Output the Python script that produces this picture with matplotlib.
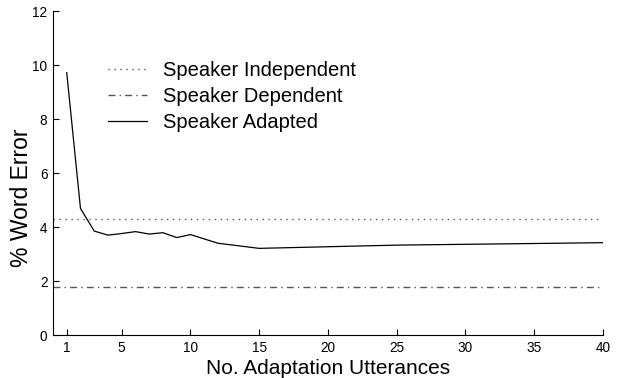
import matplotlib
matplotlib.use("Agg")
import matplotlib.pyplot as plt

# Data
utterances = [1, 2, 3, 4, 5, 6, 7, 8, 9, 10, 12, 15, 20, 25, 30, 40]
adapted_err = [9.73, 4.70, 3.86, 3.71, 3.77, 3.84, 3.75, 3.80, 3.62, 3.73, 3.41, 3.22, 3.28, 3.34, 3.37, 3.43]
independent_err = 4.30
dependent_err = 1.80
x_ticks = [1, 5, 10, 15, 20, 25, 30, 35, 40]
y_ticks = [0, 2, 4, 6, 8, 10, 12]

plt.rcParams['font.family'] = ['Liberation Sans', 'DejaVu Sans']

fig = plt.figure(figsize=(6.27, 3.78), dpi=100)
ax = fig.add_axes([0.0845, 0.113, 0.877, 0.857])

ax.axhline(independent_err, color='#555555', lw=1.0, linestyle=(0, (1, 3.3)),
           label='Speaker Independent')
ax.axhline(dependent_err, color='#555555', lw=1.0, linestyle=(0, (5, 3, 1, 3)),
           label='Speaker Dependent')
ax.plot(utterances, adapted_err, color='black', lw=0.9, label='Speaker Adapted')

ax.set_xlim(0, 40)
ax.set_ylim(0, 12)
ax.set_xticks(x_ticks)
ax.set_yticks(y_ticks)
ax.tick_params(direction='in', length=4, width=0.8, labelsize=9.8, pad=4)
for s in ['top', 'right']:
    ax.spines[s].set_visible(False)
for s in ['left', 'bottom']:
    ax.spines[s].set_linewidth(0.8)

ax.set_xlabel('No. Adaptation Utterances', fontsize=15, labelpad=3)
ax.set_ylabel('% Word Error', fontsize=16.5)
ax.yaxis.set_label_coords(-0.036, 0.424)

ax.legend(loc='upper left', bbox_to_anchor=(108 / 627, 1 - 61 / 378),
          bbox_transform=fig.transFigure, frameon=False, fontsize=14.5,
          handlelength=1.95, handletextpad=0.8, labelspacing=0.35,
          borderpad=0, borderaxespad=0)

fig.savefig('out.png', dpi=100)
